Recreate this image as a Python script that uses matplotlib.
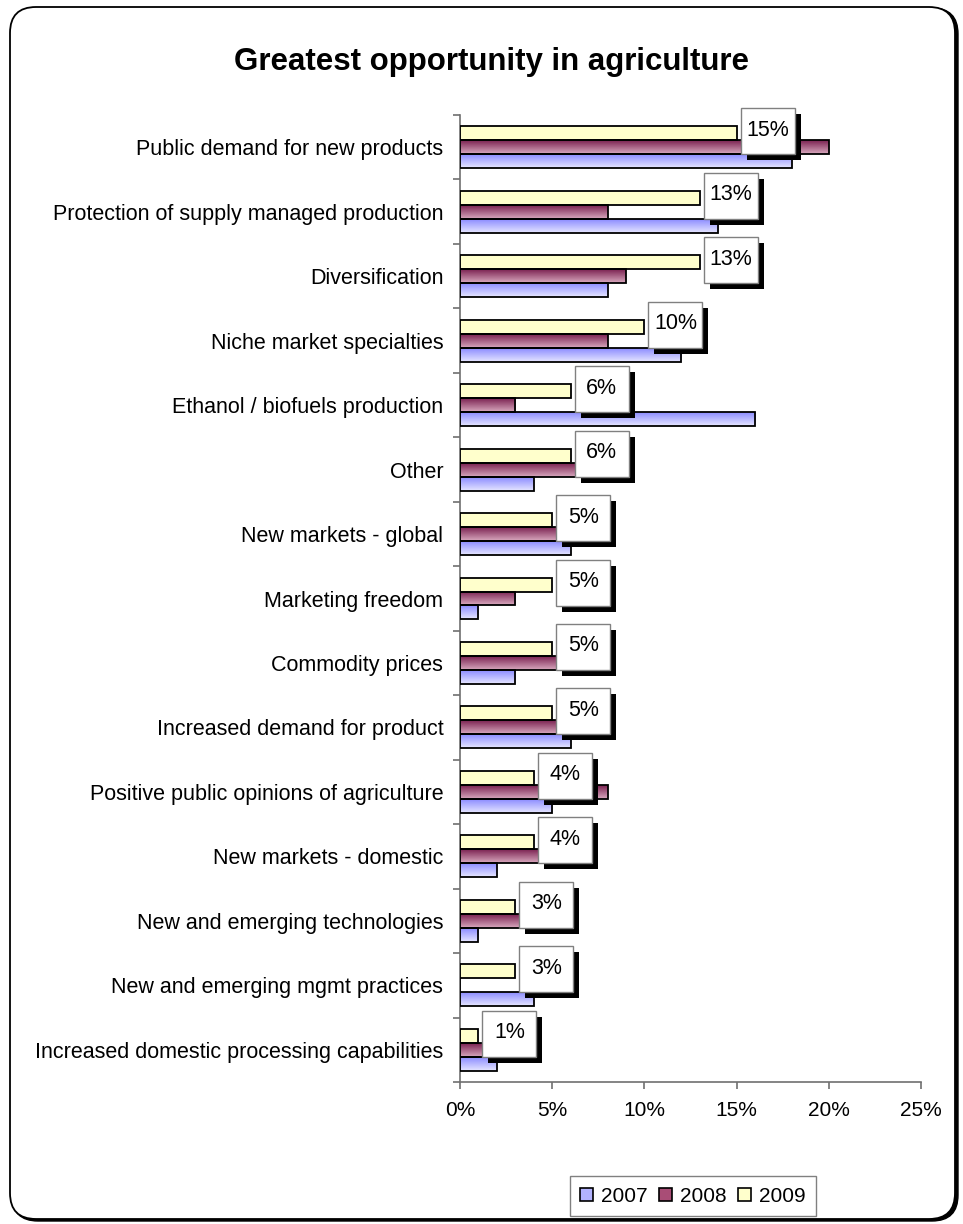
import numpy as np
import matplotlib
matplotlib.use("Agg")
import matplotlib.pyplot as plt
from matplotlib.patches import Rectangle, FancyBboxPatch, Patch
from matplotlib.transforms import IdentityTransform
from matplotlib.colors import LinearSegmentedColormap

plt.rcParams['font.family'] = ['Liberation Sans', 'DejaVu Sans']

categories = [
    "Public demand for new products",
    "Protection of supply managed production",
    "Diversification",
    "Niche market specialties",
    "Ethanol / biofuels production",
    "Other",
    "New markets - global",
    "Marketing freedom",
    "Commodity prices",
    "Increased demand for product",
    "Positive public opinions of agriculture",
    "New markets - domestic",
    "New and emerging technologies",
    "New and emerging mgmt practices",
    "Increased domestic processing capabilities",
]
v2007 = [18, 14, 8, 12, 16, 4, 6, 1, 3, 6, 5, 2, 1, 4, 2]
v2008 = [20, 8, 9, 8, 3, 7, 6, 3, 8, 6, 8, 7, 4, 0, 2]
v2009 = [15, 13, 13, 10, 6, 6, 5, 5, 5, 5, 4, 4, 3, 3, 1]
series_names = ["2007", "2008", "2009"]
xticks = [0, 5, 10, 15, 20, 25]
title = "Greatest opportunity in agriculture"

W, H, DPI = 963, 1224, 100
fig = plt.figure(figsize=(W / DPI, H / DPI), dpi=DPI)

# outer rounded frame with shadow
shadow = FancyBboxPatch((12, 3), 946, 1213, boxstyle="round,pad=0,rounding_size=26",
                        transform=IdentityTransform(), facecolor="black", edgecolor="black",
                        zorder=-2)
frame = FancyBboxPatch((10, 5), 945, 1212, boxstyle="round,pad=0,rounding_size=26",
                       transform=IdentityTransform(), facecolor="white", edgecolor="black",
                       linewidth=1.3, zorder=-1)
fig.patches.extend([shadow, frame])

ax = fig.add_axes([460 / W, 1 - 1082 / H, 461 / W, (1082 - 115) / H])
ax.set_facecolor("none")

n = len(categories)
yc = np.arange(n)[::-1].astype(float)
h = 0.217

cmap07 = LinearSegmentedColormap.from_list("c07", ["#8c8cff", "#e6e6ff"])
cmap08 = LinearSegmentedColormap.from_list("c08", ["#7a2150", "#d9a9bf"])
grad = np.linspace(0, 1, 64).reshape(-1, 1)

def draw_series(vals, offs, cmap, flat):
    ys = yc + offs
    bars = ax.barh(ys, vals, height=h, color=flat, edgecolor="none", zorder=2)
    for b in bars:
        if cmap is not None and b.get_width() > 0:
            x0, y0 = b.get_x(), b.get_y()
            im = ax.imshow(grad, extent=[x0, x0 + b.get_width(), y0, y0 + b.get_height()],
                           cmap=cmap, aspect="auto", origin="upper", zorder=2.2,
                           interpolation="bilinear")
            im.set_clip_path(b)
    ax.barh(ys, vals, height=h, fill=False, edgecolor="black", linewidth=1.3, zorder=3)
    return ys

ys09 = draw_series(v2009, h, None, "#ffffcc")
draw_series(v2008, 0.0, cmap08, "#a94d76")
draw_series(v2007, -h, cmap07, "#b3b3ff")

ax.set_xlim(0, 25)
ax.set_ylim(-0.5, n - 0.5)

for s in ["top", "right"]:
    ax.spines[s].set_visible(False)
for s in ["left", "bottom"]:
    ax.spines[s].set_color("#707070")
    ax.spines[s].set_linewidth(1.2)

ax.set_xticks(xticks)
ax.set_xticklabels([f"{t}%" for t in xticks], fontsize=15)
ax.tick_params(axis="x", length=5, width=1.2, color="#707070", pad=9, direction="out")
ax.set_yticks(yc)
ax.set_yticklabels(categories, fontsize=15.5)
ax.set_yticks(np.arange(n + 1) - 0.5, minor=True)
ax.tick_params(axis="y", which="major", length=0, pad=12)
ax.tick_params(axis="y", which="minor", length=5, width=1.2, color="#707070", direction="out")

# data labels for 2009
fig.canvas.draw()
for v, y in zip(v2009, ys09):
    px, py = ax.transData.transform((v, y))
    bx, by, bw, bh = px + 4, py - 23 + 2, 54, 46
    fig.patches.append(Rectangle((bx + 6, by - 6), bw, bh, transform=IdentityTransform(),
                                 facecolor="black", edgecolor="none", zorder=5))
    fig.patches.append(Rectangle((bx, by), bw, bh, transform=IdentityTransform(),
                                 facecolor="white", edgecolor="#808080", linewidth=1.0, zorder=6))
    fig.text((bx + bw / 2) / W, (by + bh / 2 + 1) / H, f"{v}%", ha="center", va="center",
             fontsize=15.5, zorder=7)

fig.text(491 / W, 1 - 62 / H, title, ha="center", va="center", fontsize=22.5,
         fontweight="bold")

handles = [Patch(facecolor="#b3b3ff", edgecolor="black", linewidth=1.2),
           Patch(facecolor="#a94d76", edgecolor="black", linewidth=1.2),
           Patch(facecolor="#ffffcc", edgecolor="black", linewidth=1.2)]
leg = fig.legend(handles, series_names, loc="center", bbox_to_anchor=(693 / W, 1 - 1196 / H),
                 ncol=3, fontsize=15, frameon=True, fancybox=False, handlelength=0.6,
                 handleheight=0.6, handletextpad=0.4, columnspacing=0.55, borderpad=0.5)
leg.get_frame().set_edgecolor("#606060")
leg.get_frame().set_linewidth(1.0)

fig.savefig("out.png", dpi=DPI)
